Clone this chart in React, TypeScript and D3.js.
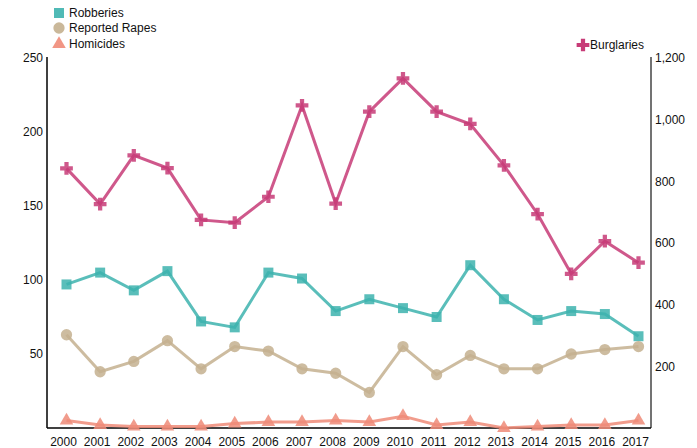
import React from "react";
import * as d3 from "d3";

const years = ["2000","2001","2002","2003","2004","2005","2006","2007","2008","2009","2010","2011","2012","2013","2014","2015","2016","2017"];
const robberies = [97,105,93,106,72,68,105,101,79,87,81,75,110,87,73,79,77,62];
const rapes = [63,38,45,59,40,55,52,40,37,24,55,36,49,40,40,50,53,55];
const homicides = [5,2,1,1,1,3,4,4,5,4,8,2,4,0,1,2,2,5];
const burglaries = [842,726,884,843,675,666,750,1046,728,1026,1134,1026,986,852,694,500,606,536];
const leftTicks = [50,100,150,200,250];
const rightTicks = [200,400,600,800,1000,1200];

const W = 697, H = 448;
const L = 47, R = 651, T = 58, B = 428;
const FONT = "Arial, 'Liberation Sans', sans-serif";

export default function App() {
  const x = d3.scalePoint<string>().domain(years).range([66.5, 638.5]);
  const yL = d3.scaleLinear().domain([0, 250]).range([B, T]);
  const yR = d3.scaleLinear().domain([0, 1200]).range([B, T]);
  const fmt = d3.format(",");

  const series = [
    { name: "Burglaries", data: burglaries, y: yR, color: "#c73b77", sym: d3.symbolCross, size: 90 },
    { name: "Robberies", data: robberies, y: yL, color: "#3db3ae", sym: d3.symbolSquare, size: 100 },
    { name: "Reported Rapes", data: rapes, y: yL, color: "#c4b08f", sym: d3.symbolCircle, size: 100 },
    { name: "Homicides", data: homicides, y: yL, color: "#ef8b78", sym: d3.symbolTriangle, size: 80 },
  ];

  const legendLeft = [
    { s: series[1], y: 13 },
    { s: series[2], y: 28 },
    { s: series[3], y: 44 },
  ];

  return (
    <svg width={W} height={H} style={{ position: "absolute", left: 0, top: 0, fontFamily: FONT }}>
      <rect width={W} height={H} fill="#fff" />
      {/* axes */}
      <line x1={L} x2={L} y1={T - 1} y2={B} stroke="#000" strokeWidth={1.5} />
      <line x1={R} x2={R} y1={T - 1} y2={B} stroke="#444" strokeWidth={1.5} />
      <line x1={L} x2={R} y1={B} y2={B} stroke="#000" strokeWidth={1.5} />
      {leftTicks.map((t) => (
        <text key={"l" + t} x={L - 4} y={yL(t)} dy="0.35em" textAnchor="end" fontSize={12} fill="#111">{t}</text>
      ))}
      {rightTicks.map((t) => (
        <text key={"r" + t} x={R + 4} y={yR(t)} dy="0.35em" textAnchor="start" fontSize={12} fill="#111">{fmt(t)}</text>
      ))}
      {years.map((yr) => (
        <text key={yr} x={(x(yr) as number) - 3} y={B + 14} dy="0.35em" textAnchor="middle" fontSize={12} fill="#111">{yr}</text>
      ))}
      {/* series */}
      {series.map((s) => {
        const line = d3.line<number>().x((_, i) => x(years[i]) as number).y((d) => s.y(d));
        const sym = d3.symbol().type(s.sym).size(s.size)();
        return (
          <g key={s.name}>
            <path d={line(s.data) || ""} fill="none" stroke={s.color} strokeWidth={3} strokeOpacity={0.85} />
            {s.data.map((v, i) => (
              <path key={i} d={sym || ""} transform={`translate(${x(years[i])},${s.y(v)})`} fill={s.color} fillOpacity={0.85} />
            ))}
          </g>
        );
      })}
      {/* legends */}
      {legendLeft.map(({ s, y }) => (
        <g key={"lg" + s.name}>
          <path d={d3.symbol().type(s.sym).size(s.size)() || ""} transform={`translate(59,${y})`} fill={s.color} fillOpacity={0.9} />
          <text x={69} y={y} dy="0.35em" fontSize={12} fill="#111">{s.name}</text>
        </g>
      ))}
      <g>
        <path d={d3.symbol().type(d3.symbolCross).size(90)() || ""} transform="translate(583,45)" fill="#c73b77" />
        <text x={590} y={45} dy="0.35em" fontSize={12} fill="#111">Burglaries</text>
      </g>
    </svg>
  );
}
